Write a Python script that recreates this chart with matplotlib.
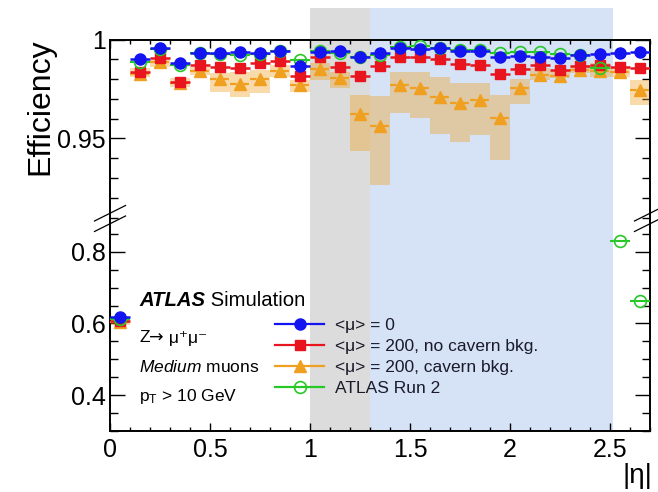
import matplotlib
matplotlib.use("Agg")
import matplotlib.pyplot as plt
import numpy as np
from matplotlib.ticker import MultipleLocator, FuncFormatter
from matplotlib.lines import Line2D

plt.rcParams['font.family'] = ['Liberation Sans', 'DejaVu Sans']
plt.rcParams['mathtext.fontset'] = 'custom'
plt.rcParams['mathtext.rm'] = 'Liberation Sans'
plt.rcParams['mathtext.it'] = 'Liberation Sans:italic'
plt.rcParams['mathtext.bf'] = 'Liberation Sans:bold'
plt.rcParams['mathtext.default'] = 'regular'

# ---------------- data ----------------
eta = [0.05, 0.15, 0.25, 0.35, 0.45, 0.55, 0.65, 0.75, 0.85, 0.95,
       1.05, 1.15, 1.25, 1.35, 1.45, 1.55, 1.65, 1.75, 1.85, 1.95,
       2.05, 2.15, 2.25, 2.35, 2.45, 2.55, 2.65]
eta_halfwidth = 0.05

eff_mu0 = [0.619, 0.990, 0.9955, 0.988, 0.9933, 0.9933, 0.9935, 0.993, 0.9942, 0.9867,
           0.9937, 0.994, 0.9913, 0.9932, 0.9957, 0.9952, 0.9955, 0.9943, 0.9941, 0.9914,
           0.9917, 0.991, 0.9905, 0.9924, 0.9925, 0.9932, 0.9937]

eff_mu200 = [0.607, 0.9835, 0.9907, 0.9787, 0.9871, 0.9859, 0.9858, 0.988, 0.989, 0.9816,
             0.991, 0.9861, 0.9816, 0.9867, 0.9913, 0.9913, 0.9903, 0.9875, 0.9871, 0.9826,
             0.9852, 0.9869, 0.9848, 0.9864, 0.987, 0.9862, 0.9855]

eff_cavern = [0.603, 0.9825, 0.9885, 0.978, 0.9841, 0.980, 0.9776, 0.980, 0.9841, 0.9768,
              0.985, 0.9808, 0.9624, 0.9564, 0.9768, 0.9756, 0.9712, 0.968, 0.9692, 0.9606,
              0.9757, 0.9822, 0.9814, 0.9846, 0.984, 0.9838, 0.9745]
cavern_hi = [0.612, 0.9856, 0.9896, 0.9806, 0.9863, 0.983, 0.9837, 0.9846, 0.9871, 0.9795,
             0.988, 0.9837, 0.972, 0.9717, 0.9838, 0.9837, 0.981, 0.978, 0.978, 0.972,
             0.9802, 0.9854, 0.9846, 0.9871, 0.988, 0.9854, 0.9795]
cavern_lo = [0.596, 0.9812, 0.9863, 0.9762, 0.982, 0.9736, 0.9711, 0.9728, 0.9812, 0.9736,
             0.9795, 0.9754, 0.9437, 0.9265, 0.963, 0.9605, 0.9521, 0.9484, 0.9518, 0.9391,
             0.9676, 0.9795, 0.9804, 0.9832, 0.9812, 0.9812, 0.967]

eff_run2 = [0.612, 0.9888, 0.995, 0.987, 0.993, 0.9925, 0.992, 0.9925, 0.9942, 0.9896,
            0.9942, 0.993, 0.991, 0.992, 0.996, 0.9968, 0.9955, 0.9947, 0.9949, 0.993,
            0.9935, 0.9935, 0.9925, 0.9922, 0.9858, 0.831, 0.662]

region_gray = (1.0, 1.3)
region_blue = (1.3, 2.515)

labels = ["<μ> = 0", "<μ> = 200, no cavern bkg.", "<μ> = 200, cavern bkg.", "ATLAS Run 2"]

C_BLUE = '#1414f0'
C_RED = '#e8141e'
C_ORANGE = '#f0a020'
C_GREEN = '#28c828'

# ---------------- layout ----------------
W, H = 658, 492
fig = plt.figure(figsize=(W / 100, H / 100), dpi=100)

def fx(p):
    return p / W

def fy(p):
    return 1 - p / H

L, R = 110, 650
TOP, BRK, BOT = 39.5, 219, 431
ax_b = fig.add_axes([fx(L), fy(BOT), fx(R) - fx(L), fy(BRK) - fy(BOT)])
ax_t = fig.add_axes([fx(L), fy(BRK), fx(R) - fx(L), fy(TOP) - fy(BRK)])
ax_t.patch.set_alpha(0)

ax_t.set_ylim(1.0 - (BRK - TOP) / 1980.0, 1.0)
ax_b.set_ylim(0.3, 0.3 + (BOT - BRK) / 358.5)

# shaded regions (span both panels and extend above frame)
span_top = (BOT - 8) / (BOT - BRK)
ax_b.axvspan(*region_gray, ymin=0, ymax=span_top, color='#dcdcdc', lw=0, clip_on=False, zorder=0)
ax_b.axvspan(*region_blue, ymin=0, ymax=span_top, color='#d6e3f7', lw=0, clip_on=False, zorder=0)

x = np.array(eta)
for ax in (ax_t, ax_b):
    lo = np.array(cavern_lo)
    hi = np.array(cavern_hi)
    ax.bar(x, hi - lo, bottom=lo, width=2 * eta_halfwidth, color=C_ORANGE, alpha=0.38, lw=0, zorder=2)
    e = ax.errorbar(x, eff_cavern, xerr=eta_halfwidth, fmt='^', color=C_ORANGE, ms=8, lw=1.6,
                    capsize=0, zorder=3)
    for lc in e[2]:
        lc.set_linestyle((0, (3, 2.5)))
    ax.errorbar(x, eff_mu200, xerr=eta_halfwidth, fmt='s', color=C_RED, ms=7, lw=1.8,
                capsize=0, zorder=4)
    ax.errorbar(x, eff_run2, xerr=eta_halfwidth, fmt='o', color=C_GREEN, mfc='none', mec=C_GREEN,
                mew=1.2, ms=8.5, lw=1.5, capsize=0, zorder=5)
    ax.errorbar(x, eff_mu0, xerr=eta_halfwidth, fmt='o', color=C_BLUE, ms=8, lw=1.8,
                capsize=0, zorder=6)
    ax.set_xlim(0, 2.7)
    ax.xaxis.set_major_locator(MultipleLocator(0.5))
    ax.xaxis.set_minor_locator(MultipleLocator(0.1))
    for s in ax.spines.values():
        s.set_linewidth(1.4)
    ax.tick_params(axis='both', which='both', direction='in', width=1.0, labelsize=18)
    ax.tick_params(axis='x', which='major', length=5.5)
    ax.tick_params(axis='x', which='minor', length=3)
    ax.tick_params(axis='y', which='major', length=11, pad=3)
    ax.tick_params(axis='y', which='minor', length=6)

fmt = FuncFormatter(lambda v, p: '%g' % round(v, 3))

ax_t.spines['bottom'].set_visible(False)
ax_t.tick_params(axis='x', which='both', bottom=False, top=True, labelbottom=False)
ax_t.tick_params(axis='y', which='both', left=True, right=True)
ax_t.yaxis.set_major_locator(MultipleLocator(0.05))
ax_t.yaxis.set_minor_locator(MultipleLocator(0.01))
ax_t.yaxis.set_major_formatter(fmt)

ax_b.spines['top'].set_visible(False)
ax_b.tick_params(axis='x', which='both', bottom=True, top=False, pad=5)
ax_b.tick_params(axis='y', which='both', left=True, right=True)
ax_b.yaxis.set_major_locator(MultipleLocator(0.2))
ax_b.yaxis.set_minor_locator(MultipleLocator(0.05))
ax_b.yaxis.set_major_formatter(fmt)
ax_b.xaxis.set_major_formatter(fmt)

# break marks
for xc in (L, R):
    for dy in (0, 10.5):
        fig.add_artist(Line2D([fx(xc - 15.5), fx(xc + 15.5)], [fy(221 + dy), fy(205.5 + dy)],
                              color='black', lw=0.9))

# axis titles
fig.text(fx(40), fy(107), 'Efficiency', rotation=90, ha='center', va='center', fontsize=23)
fig.text(fx(652), fy(476), '|η|', ha='right', va='center', fontsize=20)

# annotations
def chain(pieces, x0, ypix, size):
    """Place text pieces one after the other on one line."""
    xcur = x0
    for s, kw in pieces:
        t = fig.text(xcur / W, fy(ypix), s, fontsize=size, ha='left', va='baseline', **kw)
        fig.canvas.draw()
        xcur = t.get_window_extent().x1
    return xcur

chain([('ATLAS', dict(fontweight='bold', fontstyle='italic')),
       (' Simulation', {})], 139, 305.5, 14.6)
chain([('Z', {}), ('→', dict(family=['DejaVu Sans'])), (' μ⁺μ⁻', {})], 139, 342.5, 12.5)
fig.text(fx(139), fy(371.5), r'$\mathit{Medium}$ muons', fontsize=12.5, ha='left', va='baseline')
fig.text(fx(139), fy(400.5), r'p$_{\mathregular{T}}$ > 10 GeV', fontsize=12.5, ha='left', va='baseline')

handles = [
    Line2D([], [], color=C_BLUE, marker='o', ms=8, lw=1.6),
    Line2D([], [], color=C_RED, marker='s', ms=7, lw=1.6),
    Line2D([], [], color=C_ORANGE, marker='^', ms=8, lw=1.6),
    Line2D([], [], color=C_GREEN, marker='o', mfc='none', mew=1.2, ms=8.5, lw=1.6),
]
fig.legend(handles, labels, loc='upper left', bbox_to_anchor=(fx(275), fy(318)),
           frameon=False, fontsize=12.5, handlelength=2.85, handletextpad=0.6,
           labelspacing=0.33, borderpad=0, borderaxespad=0, labelcolor='#1a1a2a')

fig.savefig('out.png', dpi=100)
